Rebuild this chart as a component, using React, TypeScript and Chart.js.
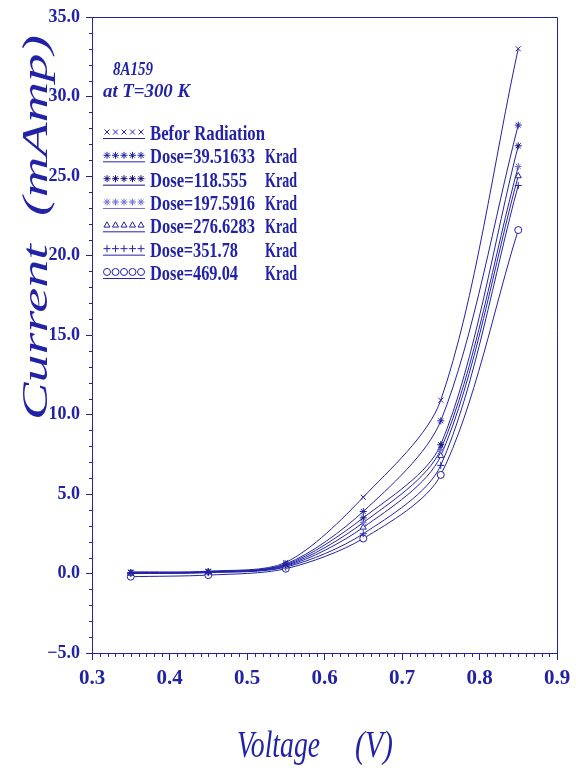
import { useEffect, useRef } from "react";
import { Chart, registerables } from "chart.js";
import { drawPoint } from "chart.js/helpers";

Chart.register(...registerables);

const voltages = [0.35, 0.45, 0.55, 0.65, 0.75, 0.85];
const beforeRadiation = [0.1, 0.15, 0.7, 4.8, 10.9, 33.0];
const dose39 = [0.05, 0.1, 0.6, 3.9, 9.6, 28.2];
const dose118 = [0.05, 0.1, 0.55, 3.5, 8.1, 26.9];
const dose197 = [0.05, 0.1, 0.5, 3.2, 7.8, 25.6];
const dose276 = [0.0, 0.08, 0.45, 2.9, 7.4, 25.0];
const dose351 = [0.0, 0.05, 0.4, 2.5, 6.8, 24.4];
const dose469 = [-0.2, -0.1, 0.3, 2.2, 6.2, 21.6];

const seriesValues = [beforeRadiation, dose39, dose118, dose197, dose276, dose351, dose469];
const seriesLabels = [
  "Befor Radiation",
  "Dose=39.51633",
  "Dose=118.555",
  "Dose=197.5916",
  "Dose=276.6283",
  "Dose=351.78",
  "Dose=469.04",
];
const seriesUnits = ["", "Krad", "Krad", "Krad", "Krad", "Krad", "Krad"];
const seriesMarkers = ["crossRot", "star", "star", "star", "triangle", "cross", "circle"];

const sampleName = "8A159";
const temperatureNote = "at T=300 K";
const xTitle = "Voltage";
const xUnit = "(V)";
const yTitle = "Current  (mAmp)";

const BLUE = "#2222a6";
const LIGHT = "#7070d4";
const seriesColors = [BLUE, BLUE, "#10107a", LIGHT, BLUE, BLUE, BLUE];
const seriesFill = [BLUE, BLUE, "#10107a", LIGHT, "#ffffff", BLUE, "#ffffff"];
const legendWidths = [115, 105, 97, 105, 105, 88, 88];

function fitText(
  ctx: CanvasRenderingContext2D,
  text: string,
  x: number,
  y: number,
  font: string,
  width: number,
  rotate = false
) {
  ctx.save();
  ctx.font = font;
  const m = ctx.measureText(text).width;
  const sx = width / m;
  ctx.translate(x, y);
  if (rotate) ctx.rotate(-Math.PI / 2);
  ctx.scale(sx, 1);
  ctx.textAlign = "left";
  ctx.textBaseline = "alphabetic";
  ctx.fillText(text, 0, 0);
  ctx.restore();
}

const decorPlugin = {
  id: "decor",
  afterDraw(chart: any) {
    const ctx: CanvasRenderingContext2D = chart.ctx;
    const { left, right, top, bottom } = chart.chartArea;
    const xs = chart.scales.x;
    const ys = chart.scales.y;
    ctx.save();
    ctx.strokeStyle = BLUE;
    ctx.fillStyle = BLUE;
    ctx.lineWidth = 1;
    ctx.beginPath();
    ctx.moveTo(left, top + 0.5);
    ctx.lineTo(right + 0.5, top + 0.5);
    ctx.lineTo(right + 0.5, bottom);
    ctx.stroke();
    ctx.beginPath();
    for (let i = -5; i <= 35; i++) {
      if (i % 5 === 0) continue;
      const py = Math.round(ys.getPixelForValue(i)) + 0.5;
      ctx.moveTo(left - 3, py);
      ctx.lineTo(left, py);
    }
    for (let i = 30; i <= 90; i++) {
      if (i % 10 === 0) continue;
      const px = Math.round(xs.getPixelForValue(i / 100)) + 0.5;
      ctx.moveTo(px, bottom);
      ctx.lineTo(px, bottom + 4);
    }
    ctx.stroke();

    fitText(ctx, yTitle, 47, 420, "italic 36px 'Liberation Serif'", 385, true);
    fitText(ctx, xTitle, 237, 757, "italic 38px 'Liberation Serif'", 83);
    fitText(ctx, xUnit, 355, 757, "italic 38px 'Liberation Serif'", 38);

    fitText(ctx, sampleName, 113, 75, "italic bold 19px 'Liberation Serif'", 40);
    fitText(ctx, temperatureNote, 103, 97, "italic bold 19px 'Liberation Serif'", 87);

    const legendFont = "bold 21px 'Liberation Serif'";
    seriesLabels.forEach((lab, i) => {
      const cy = 133 + 23.33 * i;
      ctx.save();
      ctx.strokeStyle = seriesColors[i];
      ctx.fillStyle = seriesFill[i];
      ctx.lineWidth = 1;
      ctx.beginPath();
      ctx.moveTo(103, cy + 5.5);
      ctx.lineTo(145, cy + 5.5);
      ctx.stroke();
      for (let k = 0; k < 5; k++) {
        drawPoint(ctx, { pointStyle: seriesMarkers[i], radius: 3.5, rotation: 0, borderWidth: 1 } as any, 107 + 8.5 * k, cy - 1);
      }
      ctx.restore();
      ctx.fillStyle = BLUE;
      fitText(ctx, lab, 150, cy + 7, legendFont, legendWidths[i]);
      if (seriesUnits[i]) {
        fitText(ctx, seriesUnits[i], 265, cy + 7, legendFont, 32);
      }
    });
    ctx.restore();
  },
};

export default function App() {
  const ref = useRef<HTMLCanvasElement | null>(null);
  useEffect(() => {
    if (!ref.current) return;
    const datasets = seriesValues.map((vals, i) => ({
      label: seriesLabels[i],
      data: voltages.map((v, j) => ({ x: v, y: vals[j] })),
      borderColor: BLUE,
      borderWidth: 1,
      pointStyle: seriesMarkers[i] as any,
      pointRadius: 3.5,
      pointBorderColor: seriesColors[i],
      pointBackgroundColor: seriesFill[i],
      pointBorderWidth: 1,
      tension: 0.3,
      fill: false,
    }));
    const chart = new Chart(ref.current, {
      type: "line",
      data: { datasets },
      plugins: [decorPlugin],
      options: {
        animation: false,
        responsive: true,
        maintainAspectRatio: false,
        layout: { padding: { top: 17, right: 24, left: 0, bottom: 0 } },
        plugins: { legend: { display: false }, tooltip: { enabled: false } },
        scales: {
          x: {
            type: "linear",
            min: 0.3,
            max: 0.9,
            ticks: {
              stepSize: 0.1,
              color: BLUE,
              padding: 6,
              font: { family: "'Liberation Serif'", size: 21, weight: "bold" },
              callback: (v: any) => Number(v).toFixed(1),
            },
            grid: { drawOnChartArea: false, tickLength: 7, color: BLUE, lineWidth: 1 },
            border: { color: BLUE, width: 1 },
            afterFit: (s: any) => {
              s.height = 121;
            },
          },
          y: {
            type: "linear",
            min: -5,
            max: 35,
            ticks: {
              stepSize: 5,
              color: BLUE,
              padding: 6,
              font: { family: "'Liberation Serif'", size: 18, weight: "bold" },
              callback: (v: any) => (Number(v) < 0 ? "\u2212" + Math.abs(Number(v)).toFixed(1) : Number(v).toFixed(1)),
            },
            grid: { drawOnChartArea: false, tickLength: 6, color: BLUE, lineWidth: 1 },
            border: { color: BLUE, width: 1 },
            afterFit: (s: any) => {
              s.width = 92;
            },
          },
        },
      },
    });
    return () => chart.destroy();
  }, []);
  return (
    <div style={{ position: "fixed", left: 0, top: 0, width: 581, height: 774, background: "#fff" }}>
      <canvas ref={ref} />
    </div>
  );
}
